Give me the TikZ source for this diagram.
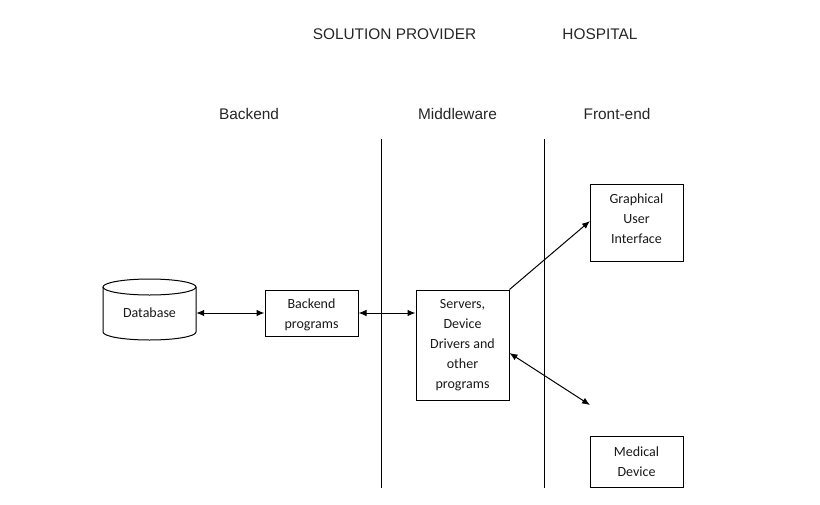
\documentclass[tikz,border=0pt]{standalone}
\usepackage{fontspec}
\setmainfont{Carlito}
\newfontfamily\hdr{Liberation Sans}
\usetikzlibrary{arrows.meta}
\begin{document}
\begin{tikzpicture}[x=1pt,y=-1pt,
  hdrtext/.style={font=\hdr\fontsize{15.4}{18}\selectfont, text=black!85, inner sep=0},
  boxnode/.style={draw, line width=1pt, font=\fontsize{14}{20}\selectfont, align=center, inner sep=0, minimum width=93, text=black!90},
  boxtext/.style={font=\fontsize{14}{20}\selectfont, align=center, inner sep=0, text=black!90},
  conn/.style={line width=1pt, {Latex[length=8pt,width=6.5pt]}-{Latex[length=8pt,width=6.5pt]}},
  conn1/.style={line width=1pt, -{Latex[length=8pt,width=6.5pt]}},
  sep/.style={line width=0.9pt}]
\useasboundingbox (0,0) rectangle (820,504);
% headers
\node[hdrtext] (sp) at (394.5,34) {SOLUTION PROVIDER};
\node[hdrtext] (hosp) at (600,34) {HOSPITAL};
\node[hdrtext] (be) at (249,114) {Backend};
\node[hdrtext] (mw) at (457.5,114) {Middleware};
\node[hdrtext] (fe) at (617,114) {Front-end};
% separators
\coordinate (s1t) at (381,139); \coordinate (s1b) at (381,488);
\coordinate (s2t) at (544,139); \coordinate (s2b) at (544,488);
\draw[sep] (s1t) -- (s1b);
\draw[sep] (s2t) -- (s2b);
% database cylinder
\draw[line width=1pt] (103,287) -- (103,332) arc[start angle=180,end angle=0,x radius=46.5,y radius=8] -- (196,287);
\draw[line width=1pt] (149.5,287) ellipse[x radius=46.5,y radius=8];
\node[boxtext, minimum width=93, minimum height=20] (db) at (149.5,313) {Database};
% boxes
\node[boxnode, minimum height=46] (bp) at (311.5,313) {};
\node[boxtext] (bpt) at (311.5,315) {Backend\\programs};
\node[boxnode, minimum height=110] (srv) at (462.5,345) {Servers,\\Device\\Drivers and\\other\\programs};
\node[boxnode, minimum height=77] (gui) at (636.5,222.5) {};
\node[boxtext] (guit) at (636.5,219) {Graphical\\User\\Interface};
\node[boxnode, minimum height=51] (md) at (636.5,461.5) {Medical\\Device};
% connectors
\draw[conn] (db.east) -- (bp.west);
\draw[conn] (bp.east) -- (bp.east -| srv.west);
\coordinate (guiin) at (590,221);
\draw[conn1] (srv.north east) -- (guiin);
\coordinate (mdend) at (590,405);
\draw[conn] ([yshift=-8]srv.east) -- (mdend);
\end{tikzpicture}
\end{document}
